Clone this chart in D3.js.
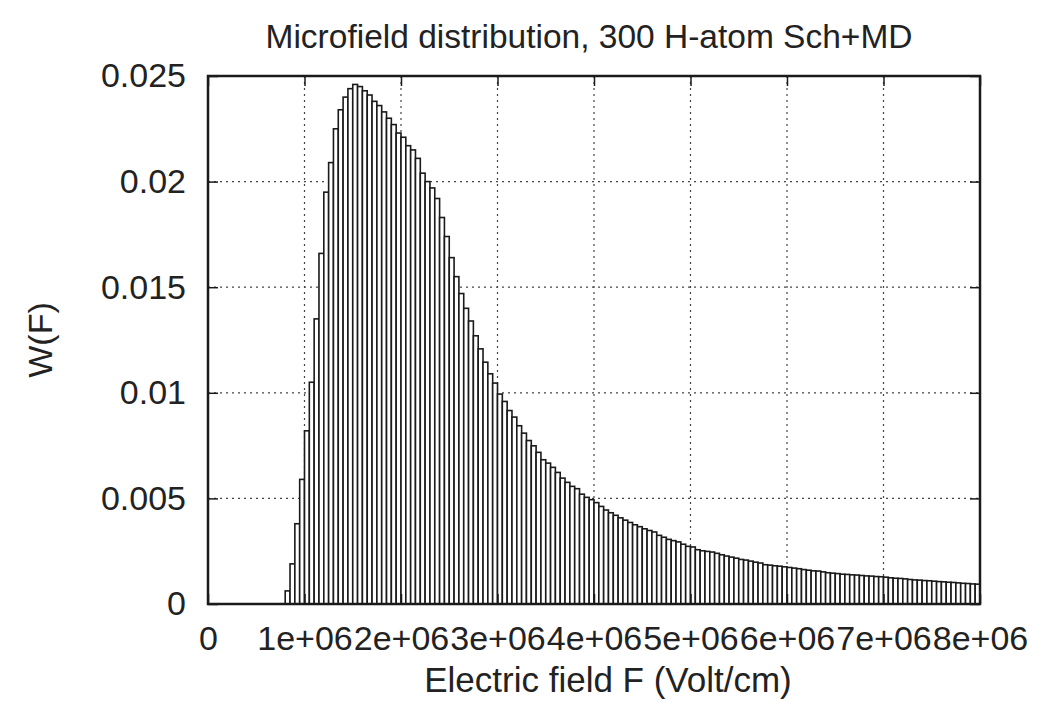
<!DOCTYPE html>
<html>
<head>
<meta charset="utf-8">
<script src="https://cdn.jsdelivr.net/npm/d3@7"></script>
<style>
  html, body { margin: 0; padding: 0; background: #fff; }
  svg { display: block; }
  text { font-family: "Liberation Sans", Arial, Helvetica, sans-serif; fill: #222; }
</style>
</head>
<body>
<svg id="chart" width="1042" height="702"></svg>
<script>
// ---- data ----
const chartTitle = "Microfield distribution, 300 H-atom Sch+MD";
const xLabel = "Electric field F (Volt/cm)";
const yLabel = "W(F)";
const firstBinStart = 8e5;      // left edge of first histogram bin (V/cm)
const binWidth = 5e4;           // histogram bin width (V/cm)
const binValues = [
  0.00062, 0.0019, 0.0038, 0.0059, 0.0082, 0.0105, 0.0135, 0.0166, 0.0195, 0.0209,
  0.0225, 0.0234, 0.0240, 0.0244, 0.0246, 0.0245, 0.0243, 0.0241, 0.0238, 0.0236,
  0.0233, 0.0230, 0.0227, 0.0223, 0.0221, 0.0217, 0.0215, 0.0211, 0.0204, 0.0200,
  0.0197, 0.0192, 0.0183, 0.0174, 0.0164, 0.0155, 0.0147, 0.0140, 0.0134, 0.0127,
  0.01208, 0.01145, 0.0109, 0.01046, 0.00994, 0.00959, 0.00916, 0.00885, 0.00844, 0.00809,
  0.00774, 0.00749, 0.00718, 0.00683, 0.00667, 0.00647, 0.00623, 0.00596, 0.00576, 0.00557,
  0.00546, 0.0052, 0.00505, 0.00494, 0.0048, 0.00462, 0.00445, 0.00432, 0.0042, 0.00408,
  0.00397, 0.00386, 0.00375, 0.00366, 0.00356, 0.00348, 0.00341, 0.00325, 0.00316, 0.00306,
  0.0030, 0.00294, 0.00283, 0.00273, 0.0027, 0.00257, 0.00252, 0.00249, 0.00246, 0.0024,
  0.00233, 0.00227, 0.00222, 0.00217, 0.00211, 0.00208, 0.00203, 0.00198, 0.00194, 0.00186,
  0.00184, 0.00181, 0.00179, 0.00176, 0.00173, 0.0017, 0.00167, 0.00163, 0.0016, 0.00157,
  0.00156, 0.00152, 0.00148, 0.00146, 0.00144, 0.00141, 0.0014, 0.00138, 0.00137, 0.00135,
  0.00133, 0.00132, 0.0013, 0.00129, 0.00127, 0.00124, 0.00122, 0.00121, 0.00119, 0.00116,
  0.00114, 0.00113, 0.00111, 0.0011, 0.00108, 0.00106, 0.00105, 0.00103, 0.00102, 0.0010,
  0.00098, 0.00097, 0.00095, 0.00094
];
const xTicks = [0, 1e6, 2e6, 3e6, 4e6, 5e6, 6e6, 7e6, 8e6];
const xTickLabels = ["0", "1e+06", "2e+06", "3e+06", "4e+06", "5e+06", "6e+06", "7e+06", "8e+06"];
const yTicks = [0, 0.005, 0.01, 0.015, 0.02, 0.025];
const yTickLabels = ["0", "0.005", "0.01", "0.015", "0.02", "0.025"];

// ---- layout ----
const W = 1042, H = 702;
const m = { left: 208, right: 62, top: 76, bottom: 98 };
const pw = W - m.left - m.right, ph = H - m.top - m.bottom;

const svg = d3.select("#chart");
const g = svg.append("g").attr("transform", `translate(${m.left},${m.top})`);

const x = d3.scaleLinear().domain([0, 8e6]).range([0, pw]);
const y = d3.scaleLinear().domain([0, 0.025]).range([ph, 0]);

// grid
const grid = g.append("g").attr("class", "grid");
grid.selectAll("line.vx").data(xTicks.slice(1, -1)).enter().append("line")
  .attr("x1", d => x(d)).attr("x2", d => x(d)).attr("y1", 0).attr("y2", ph)
  .attr("stroke", "#444").attr("stroke-width", 1.2).attr("stroke-dasharray", "2,4");
grid.selectAll("line.hy").data(yTicks.slice(1, -1)).enter().append("line")
  .attr("x1", 0).attr("x2", pw).attr("y1", d => y(d)).attr("y2", d => y(d))
  .attr("stroke", "#444").attr("stroke-width", 1.2).attr("stroke-dasharray", "2,4");

// bars
const bins = binValues.map((v, i) => ({ x0: firstBinStart + i * binWidth, x1: firstBinStart + (i + 1) * binWidth, v }));
g.append("g").selectAll("rect").data(bins).enter().append("rect")
  .attr("x", d => x(d.x0)).attr("width", d => x(d.x1) - x(d.x0))
  .attr("y", d => y(d.v)).attr("height", d => y(0) - y(d.v))
  .attr("fill", "#fff").attr("stroke", "#1a1a1a").attr("stroke-width", 1.6);

// axes (inward ticks, mirrored)
const fs = 34;
const xAxis = d3.axisBottom(x).tickValues(xTicks).tickSize(-10).tickPadding(22)
  .tickFormat((d, i) => xTickLabels[i]);
const gx = g.append("g").attr("transform", `translate(0,${ph})`).call(xAxis);
const yAxis = d3.axisLeft(y).tickValues(yTicks).tickSize(-10).tickPadding(22)
  .tickFormat((d, i) => yTickLabels[i]);
const gy = g.append("g").call(yAxis);
const xTop = d3.axisTop(x).tickValues(xTicks).tickSize(-10).tickFormat("");
g.append("g").call(xTop);
const yRight = d3.axisRight(y).tickValues(yTicks).tickSize(-10).tickFormat("");
g.append("g").attr("transform", `translate(${pw},0)`).call(yRight);

g.selectAll(".domain").remove();
g.selectAll(".tick line").attr("stroke", "#1a1a1a").attr("stroke-width", 1.5);
gx.selectAll("text").attr("font-size", fs).attr("fill", "#222").attr("dy", "0.71em");
gy.selectAll("text").attr("font-size", fs).attr("fill", "#222");

// frame
g.append("rect").attr("x", 0).attr("y", 0).attr("width", pw).attr("height", ph)
  .attr("fill", "none").attr("stroke", "#1a1a1a").attr("stroke-width", 2.5);

// title and labels
svg.append("text").attr("x", m.left + pw / 2 - 5).attr("y", 48)
  .attr("text-anchor", "middle").attr("font-size", 33.5).text(chartTitle);
svg.append("text").attr("x", m.left + pw / 2 + 14).attr("y", 692)
  .attr("text-anchor", "middle").attr("font-size", 35).text(xLabel);
svg.append("text").attr("transform", `translate(52,${m.top + ph / 2}) rotate(-90)`)
  .attr("text-anchor", "middle").attr("font-size", 34).text(yLabel);
</script>
</body>
</html>
